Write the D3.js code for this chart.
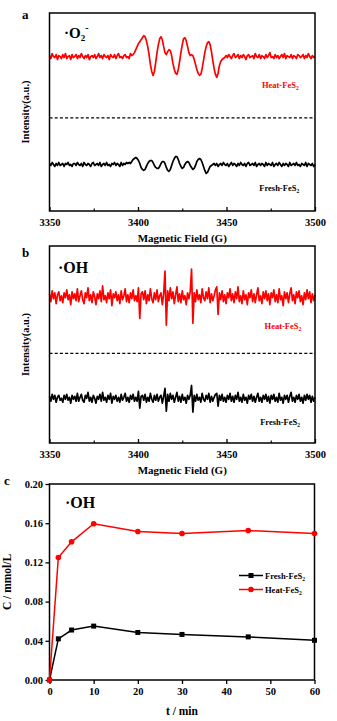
<!DOCTYPE html>
<html><head><meta charset="utf-8">
<script src="https://cdn.jsdelivr.net/npm/d3@7"></script>
<style>
body{margin:0;background:#fff}
svg{display:block}
text{font-family:"Liberation Serif","Times New Roman",serif;font-weight:bold}
</style>
</head><body>
<svg id="chart" width="337" height="721"></svg>
<script>
// ---------- data ----------
const fieldTicks = [3350, 3400, 3450, 3500];
const fieldMinorTicks = [3375, 3425, 3475];
const fieldStart = 3350, fieldStep = 0.75;

// panel a: DMPO-O2- spectra (a.u., baseline 0)
const heatO2 = [
 1,-2,3,0,-1,2,-3,1,0,-2,
 2,-1,3,-2,0,1,-3,2,-1,0,
 2,-2,1,-1,3,0,-2,1,-1,2,
 -3,0,1,-1,2,-2,0,3,-1,1,
 -2,2,0,-1,1,-3,2,0,-1,2,
 -2,1,3,-1,0,-2,1,2,-1,0,
 -2,3,1,2,
 4,7,10,13,15,17,19,21,20,16,
 10,2,-8,-15,-19,-15,-6,4,12,18,
 20,17,10,4,2,5,7,6,1,-7,
 -13,-17,-18,-13,-5,4,12,18,19,16,
 10,4,1,2,1,-3,-8,-13,-17,-19,
 -18,-12,-4,4,10,14,15,12,5,-4,
 -12,-18,-21,-17,-9,-5,-3,-2,-1,
 1,-1,2,0,-2,1,3,
 -1,0,2,-2,1,-1,2,0,-3,1,
 2,-1,0,1,-2,3,0,-1,2,-2,
 1,0,-2,2,-1,1,4,-1,0,-2,
 2,-1,1,-2,0,2,-1,3,-2,1,
 0,-1,2,-2,1,0,-2,2,1,-1,
 0,2,-2,1,-1,3,0,-2,1,-1,
 0
];
const freshO2 = [
 1,-1,2,0,-2,1,-1,2,-1,0,
 1,-2,1,0,2,-1,0,-2,1,1,
 -1,2,0,-1,1,-2,2,0,-1,1,
 0,-2,1,2,-1,0,1,-1,2,-2,
 0,1,-1,2,-1,0,-2,1,0,2,
 -1,1,0,-2,2,-1,1,0,2,1,
 2,1,3,5,6,7,6,
 4,1,-3,-5,-6,-5,-2,1,3,4,
 4,2,-1,-3,-4,-4,-2,1,3,3,
 1,-3,-6,-7,-5,-1,3,6,8,8,
 5,1,-2,-4,-3,0,2,3,2,-1,
 -3,-5,-4,-1,3,5,6,5,2,-2,
 -6,-9,-8,-5,-2,-1,
 0,1,-1,1,-2,0,1,
 -1,2,0,-1,1,-2,0,2,-1,1,
 0,-2,1,-1,2,0,-1,1,-2,1,
 2,-1,0,1,-1,2,-2,0,1,-1,
 1,0,-2,2,-1,1,0,-1,2,-2,
 0,1,-1,2,0,-2,1,-1,1,0,
 -2,2,-1,0,1,-1,2,-1,0,-2,
 1,0,-1,2,-2,1,0,-1,1,-2,
 0
];
// panel b: DMPO-OH spectra (a.u., baseline 0)
const heatOH = [
 3,-5,6,-2,4,-7,2,5,-4,1,
 -6,4,-1,7,-3,2,-8,5,-2,3,
 -4,8,-5,1,6,-3,-7,4,-1,9,
 -4,2,-6,5,0,-8,3,-2,6,-5,
 11,-3,1,-6,4,-2,7,-9,3,-1,
 5,-4,2,-7,6,-3,1,8,-5,2,
 -6,4,-2,7,-4,1,-5,9,-22,3,
 5,-3,6,-7,2,-4,8,-2,-6,4,
 -3,7,-5,1,4,-8,3,26,-29,6,
 -4,9,-2,5,-7,2,10,-5,3,-6,
 6,-3,1,-8,4,-2,5,28,-27,4,
 -5,7,-3,2,-6,8,-1,-4,5,-2,
 9,-6,3,-4,1,7,10,-18,4,-3,
 6,-5,2,-7,4,-1,8,-4,3,-6,
 5,-2,10,-5,1,-7,6,-3,2,-8,
 4,-1,7,-5,3,-6,2,9,-4,1,
 -7,5,-2,6,-4,3,-8,4,-1,7,
 -5,2,-6,8,-3,1,-9,5,-2,4,
 -6,3,9,-4,2,-7,5,-1,6,-5,
 1,-8,4,-3,7,-2,5,-6,3,-4,
 2
];
const freshOH = [
 2,-3,4,-1,3,-4,1,3,-2,0,
 -4,3,-1,4,-2,1,-5,3,-1,2,
 -3,5,-3,1,4,-2,-4,3,0,6,
 -3,1,-4,3,0,-5,2,-1,4,-3,
 6,-2,1,-4,3,-1,5,-5,2,-1,
 3,-3,1,-4,4,-2,1,5,-3,1,
 -4,3,-1,4,-3,1,-3,7,-10,2,
 3,-2,4,-4,1,-3,5,-1,-4,3,
 -2,4,-3,1,3,-5,2,10,-13,4,
 -3,5,-1,3,-4,1,6,-3,2,-4,
 4,-2,1,-5,3,-1,3,13,-14,3,
 -3,4,-2,1,-4,5,-1,-3,3,-1,
 5,-4,2,-3,1,4,5,-8,3,-2,
 4,-3,1,-4,3,-1,5,-3,2,-4,
 3,-1,6,-3,1,-4,4,-2,1,-5,
 3,-1,4,-3,2,-4,1,5,-3,1,
 -4,3,-1,4,-3,2,-5,3,-1,4,
 -3,1,-4,5,-2,1,-5,3,-1,3,
 -4,2,6,-3,1,-4,3,-1,4,-3,
 1,-5,3,-2,4,-1,3,-4,2,-3,
 1
];
const seriesNames = ["Fresh-FeS", "Heat-FeS"];

// panel c: ·OH concentration vs time
const times = [0, 2, 5, 10, 20, 30, 45, 60];
const freshConc = [0, 0.042, 0.051, 0.055, 0.0485, 0.0465, 0.044, 0.0405];
const heatConc  = [0, 0.125, 0.141, 0.1595, 0.1515, 0.1495, 0.1525, 0.1495];
const timeTicks = [0, 10, 20, 30, 40, 50, 60];
const concTicks = [0, 0.04, 0.08, 0.12, 0.16, 0.20];

// ---------- drawing ----------
const svg = d3.select("#chart");
const RED = "#ff0000";
const L = 49.5, R = 315;

function subLabel(g, x, y, base, sub, color, size) {
  const t = g.append("text").attr("x", x).attr("y", y)
    .attr("fill", color).attr("font-size", size);
  t.append("tspan").text(base);
  t.append("tspan").attr("dy", 2).attr("font-size", size * 0.65).text(sub);
  return t;
}

function drawEPR(cfg) {
  const g = svg.append("g");
  const x = d3.scaleLinear().domain([3350, 3500]).range([L, R]);
  const y = d3.scaleLinear().domain([0, 200]).range([cfg.bottom, cfg.top]);
  const fx = i => x(fieldStart + i * fieldStep);

  // dashed separator
  g.append("line").attr("x1", L).attr("x2", R)
    .attr("y1", y(cfg.dash)).attr("y2", y(cfg.dash))
    .attr("stroke", "#000").attr("stroke-width", 1.2).attr("stroke-dasharray", "3,2.2");

  const line = off => d3.line().x((d, i) => fx(i)).y(d => y(d + off));
  g.append("path").datum(cfg.heat).attr("d", line(cfg.heatOff))
    .attr("fill", "none").attr("stroke", RED).attr("stroke-width", 1.7).attr("stroke-linejoin", "round");
  g.append("path").datum(cfg.fresh).attr("d", line(cfg.freshOff))
    .attr("fill", "none").attr("stroke", "#000").attr("stroke-width", 1.7).attr("stroke-linejoin", "round");

  // axes (inward ticks)
  const ax = g.append("g").attr("transform", `translate(0,${cfg.bottom})`)
    .call(d3.axisBottom(x).tickValues(fieldTicks).tickSize(-4).tickPadding(8).tickFormat(d3.format("d")));
  ax.select(".domain").remove();
  ax.selectAll("text").attr("font-size", 10.5).attr("fill", "#000")
    .attr("font-family", '"Liberation Serif",serif').attr("font-weight", "bold");
  ax.selectAll("line").attr("stroke-width", 1.3);
  const axm = g.append("g").attr("transform", `translate(0,${cfg.bottom})`)
    .call(d3.axisBottom(x).tickValues(fieldMinorTicks).tickSize(-2.5).tickFormat(""));
  axm.select(".domain").remove();
  axm.selectAll("line").attr("stroke-width", 1.2);

  // frame
  g.append("rect").attr("x", L).attr("y", cfg.top).attr("width", R - L).attr("height", cfg.bottom - cfg.top)
    .attr("fill", "none").attr("stroke", "#000").attr("stroke-width", 1.5);

  // titles
  g.append("text").attr("x", (L + R) / 2).attr("y", cfg.bottom + 31).attr("text-anchor", "middle")
    .attr("font-size", 11).text("Magnetic Field (G)");
  g.append("text").attr("transform", `translate(29,${(cfg.top + cfg.bottom) / 2}) rotate(-90)`)
    .attr("text-anchor", "middle").attr("font-size", 10.5).text("Intensity(a.u.)");
  g.append("text").attr("x", 22).attr("y", cfg.letterY).attr("font-size", 13).text(cfg.letter);

  // series labels
  subLabel(g, x(cfg.heatLabelX), y(cfg.heatLabel), seriesNames[1], "2", RED, 8.5);
  subLabel(g, x(cfg.freshLabelX), y(cfg.freshLabel), seriesNames[0], "2", "#000", 8.5);

  // radical label
  const rt = g.append("text").attr("x", cfg.radX).attr("y", cfg.top + cfg.radDy).attr("font-size", cfg.radSize);
  cfg.radical(rt);
}

drawEPR({
  top: 13, bottom: 211, heat: heatO2, fresh: freshO2,
  heatOff: 156, freshOff: 47, dash: 94,
  heatLabel: 124, freshLabel: 20, heatLabelX: 3470, freshLabelX: 3468.5,
  letter: "a", letterY: 19,
  radX: 64, radDy: 25, radSize: 15,
  radical: t => {
    t.append("tspan").text("·O");
    t.append("tspan").attr("dy", 3).attr("font-size", 9).text("2");
    t.append("tspan").attr("dy", -10).attr("font-size", 10).text("-");
  }
});
drawEPR({
  top: 246, bottom: 443, heat: heatOH, fresh: freshOH,
  heatOff: 148.5, freshOff: 45.4, dash: 91,
  heatLabel: 116, freshLabel: 18, heatLabelX: 3471.5, freshLabelX: 3469,
  letter: "b", letterY: 257,
  radX: 58, radDy: 27, radSize: 16,
  radical: t => { t.append("tspan").text("·OH"); }
});

// ---------- panel c ----------
(function () {
  const top = 484, bottom = 680, r = 314.5;
  const g = svg.append("g");
  const x = d3.scaleLinear().domain([0, 60]).range([L, r]);
  const y = d3.scaleLinear().domain([0, 0.2]).range([bottom, top]);

  const ax = g.append("g").attr("transform", `translate(0,${bottom})`)
    .call(d3.axisBottom(x).tickValues(timeTicks).tickSize(4).tickPadding(3.5).tickFormat(d3.format("d")));
  const ay = g.append("g").attr("transform", `translate(${L},0)`)
    .call(d3.axisLeft(y).tickValues(concTicks).tickSize(4).tickPadding(2.5).tickFormat(d3.format(".2f")));
  [ax, ay].forEach(a => {
    a.select(".domain").remove();
    a.selectAll("text").attr("font-size", 10.5).attr("fill", "#000")
      .attr("font-family", '"Liberation Serif",serif').attr("font-weight", "bold");
    a.selectAll("line").attr("stroke-width", 1.3);
  });

  g.append("rect").attr("x", L).attr("y", top).attr("width", r - L).attr("height", bottom - top)
    .attr("fill", "none").attr("stroke", "#000").attr("stroke-width", 1.5);

  const line = d3.line().x((d, i) => x(times[i])).y(d => y(d));
  g.append("path").datum(freshConc).attr("d", line).attr("fill", "none").attr("stroke", "#000").attr("stroke-width", 1.5);
  g.append("path").datum(heatConc).attr("d", line).attr("fill", "none").attr("stroke", RED).attr("stroke-width", 1.5);
  g.selectAll(".sq").data(freshConc).join("rect")
    .attr("x", (d, i) => x(times[i]) - 2.5).attr("y", d => y(d) - 2.5)
    .attr("width", 5).attr("height", 5).attr("fill", "#000");
  g.selectAll(".ci").data(heatConc).join("circle")
    .attr("cx", (d, i) => x(times[i])).attr("cy", d => y(d)).attr("r", 2.8).attr("fill", RED);

  // legend
  const lg = [{c: "#000", n: seriesNames[0], y: 575.5, sq: true}, {c: RED, n: seriesNames[1], y: 589.5, sq: false}];
  lg.forEach(e => {
    g.append("line").attr("x1", 239).attr("x2", 263).attr("y1", e.y).attr("y2", e.y)
      .attr("stroke", e.c).attr("stroke-width", 1.5);
    if (e.sq) g.append("rect").attr("x", 248.5).attr("y", e.y - 2.5).attr("width", 5).attr("height", 5).attr("fill", e.c);
    else g.append("circle").attr("cx", 251).attr("cy", e.y).attr("r", 2.8).attr("fill", e.c);
    subLabel(g, 265, e.y + 3, e.n, "2", "#000", 8.5);
  });

  g.append("text").attr("x", 4).attr("y", 485).attr("font-size", 13).text("c");
  g.append("text").attr("x", 65).attr("y", 508).attr("font-size", 16).text("·OH");
  g.append("text").attr("x", (L + r) / 2).attr("y", 714.5).attr("text-anchor", "middle").attr("font-size", 11.5).text("t / min");
  g.append("text").attr("transform", `translate(11,${(top + bottom) / 2}) rotate(-90)`)
    .attr("text-anchor", "middle").attr("font-size", 11.5).text("C / mmol/L");
})();
</script>
</body></html>
